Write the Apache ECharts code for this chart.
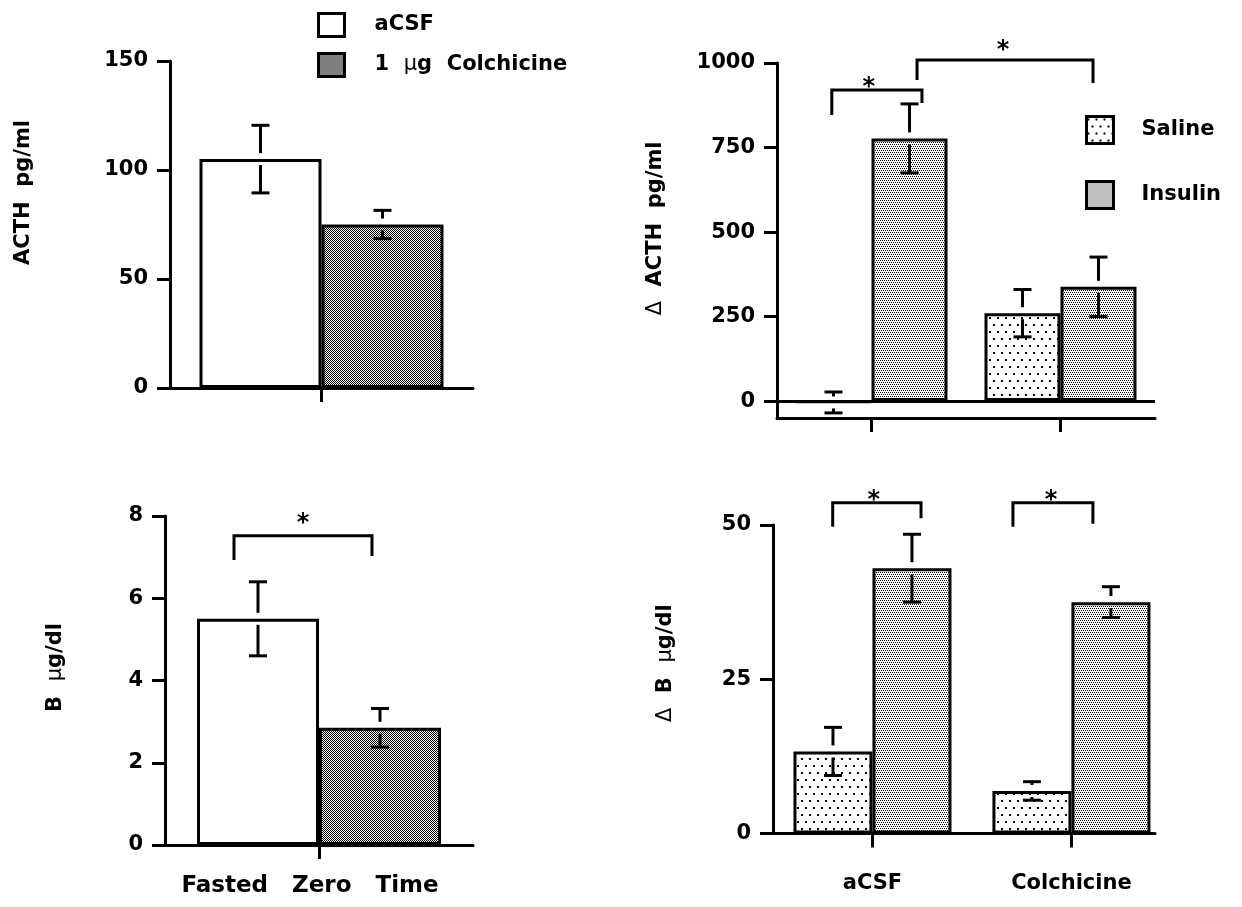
<!DOCTYPE html>
<html>
<head>
<meta charset="utf-8">
<script src="https://cdn.jsdelivr.net/npm/echarts@6/dist/echarts.min.js"></script>
<style>
html, body { margin: 0; padding: 0; background: #fff; }
#chart { width: 1242px; height: 907px; }
</style>
</head>
<body>
<div id="chart"></div>
<script>
// ---------- data ----------
// Left column: fasted, zero-time values after aCSF or colchicine pretreatment
const pretreatGroups = ['aCSF', '1  µg  Colchicine'];
const acthMean = [105, 75];
const acthSem = [15.5, 6.5];
const corticoMean = [5.5, 2.85];
const corticoSem = [0.9, 0.47];

// Right column: increments after saline or insulin
const treatCategories = ['aCSF', 'Colchicine'];
const challengeGroups = ['Saline', 'Insulin'];
const dActhSaline = [-4, 260];
const dActhSalineSem = [31, 70];
const dActhInsulin = [777, 338];
const dActhInsulinSem = [102, 88];
const dBSaline = [13.3, 6.9];
const dBSalineSem = [3.9, 1.5];
const dBInsulin = [43, 37.5];
const dBInsulinSem = [5.5, 2.5];

// tick values of the value axes
const acthTicks = [0, 50, 100, 150];
const corticoTicks = [0, 2, 4, 6, 8];
const dActhTicks = [0, 250, 500, 750, 1000];
const dBTicks = [0, 25, 50];

// significance brackets: [xLeft, xRight, yBar, yLeftEnd, yRightEnd, starX, starY]
const corticoBrackets = [[0.724, 1.172, 7.52, 6.93, 7.03, 0.948, 7.93]];
const dActhBrackets = [
  [0.79, 1.267, 920, 846, 882, 0.986, 941],
  [1.241, 2.172, 1009, 950, 941, 1.696, 1050]
];
const dBBrackets = [
  [0.80, 1.244, 53.6, 49.7, 51.1, 1.007, 54.7],
  [1.706, 2.108, 53.6, 49.7, 50.2, 1.897, 54.7]
];

// ---------- styling helpers ----------
const FONT = '"DejaVu Sans", "Liberation Sans", sans-serif';
const BLACK = '#000';
const lineStyle = { color: BLACK, width: 3 };

function tile(w, h, dots, size) {
  const c = document.createElement('canvas');
  c.width = w; c.height = h;
  const ctx = c.getContext('2d');
  ctx.fillStyle = '#fff';
  ctx.fillRect(0, 0, w, h);
  ctx.fillStyle = '#000';
  dots.forEach(([x, y]) => ctx.fillRect(x, y, size, size));
  return { image: c, repeat: 'repeat' };
}
const colchicineFill = tile(2, 2, [[0, 0], [1, 1]], 1);
const insulinFill = tile(4, 4, [[0, 0], [2, 0], [1, 2], [3, 2]], 1);
const salineFill = tile(8, 14, [[1, 2], [5, 9]], 2);

const barBorder = { borderColor: BLACK, borderWidth: 3 };

function muRich(s) { return s.replace('µ', '{u|µ}').replace('Δ', '{d|Δ}'); }
const richThin = {
  u: { fontSize: 21, fontWeight: 'normal', fontFamily: FONT, color: BLACK },
  d: { fontSize: 21, fontWeight: 'normal', fontFamily: FONT, color: BLACK }
};

function yAxisDef(gi, ticks, min, name, gap, shift) {
  return {
    gridIndex: gi, type: 'value', min: min, max: ticks[ticks.length - 1],
    axisLine: { show: true, onZero: false, lineStyle },
    axisTick: { show: true, customValues: ticks, length: 13, lineStyle },
    axisLabel: {
      customValues: ticks, margin: 22, formatter: v => String(v),
      fontSize: 21, fontWeight: 'bold', fontFamily: FONT, color: BLACK
    },
    splitLine: { show: false },
    name: muRich(name), nameLocation: 'middle', nameRotate: 90, nameGap: gap,
    nameTextStyle: { fontSize: 21, fontWeight: 'bold', fontFamily: FONT, color: BLACK, padding: [0, 0, 0, shift], rich: richThin }
  };
}

function xAxisDef(gi, min, max, ticks, extra) {
  return Object.assign({
    gridIndex: gi, type: 'value', min, max,
    axisLine: { show: true, onZero: false, lineStyle },
    axisTick: { show: true, customValues: ticks, length: 14, lineStyle },
    axisLabel: { show: false },
    splitLine: { show: false }
  }, extra || {});
}

function barSeries(name, gi, xs, values, width, fill, extra) {
  return Object.assign({
    type: 'bar', name, xAxisIndex: gi, yAxisIndex: gi,
    data: xs.map((x, i) => [x, values[i]]),
    barWidth: width, barGap: '0%',
    itemStyle: Object.assign({ color: fill }, barBorder),
    silent: true
  }, extra || {});
}

function errorSeries(gi, xs, means, sems, offset) {
  return {
    type: 'custom', xAxisIndex: gi, yAxisIndex: gi, clip: false, silent: true, z: 4,
    data: xs.map((x, i) => [x, means[i], sems[i]]),
    encode: { x: 0, y: 1 },
    renderItem(params, api) {
      const x = api.value(0), m = api.value(1), e = api.value(2);
      const c = api.coord([x, m]);
      const cx = c[0] + offset;
      const top = api.coord([x, m + e])[1];
      const bot = api.coord([x, m - e])[1];
      const gap = 6, cap = 9;
      const seg = (x1, y1, x2, y2) => ({ type: 'line', shape: { x1, y1, x2, y2 }, style: { stroke: BLACK, lineWidth: 3 } });
      const parts = [seg(cx - cap, top, cx + cap, top), seg(cx - cap, bot, cx + cap, bot)];
      if (top < c[1] - gap) parts.push(seg(cx, top, cx, c[1] - gap));
      if (bot > c[1] + gap) parts.push(seg(cx, c[1] + gap, cx, bot));
      return { type: 'group', children: parts };
    }
  };
}

function bracketSeries(gi, brackets) {
  return {
    type: 'custom', xAxisIndex: gi, yAxisIndex: gi, clip: false, silent: true, z: 5,
    data: brackets,
    encode: { x: [0, 1, 5], y: [2, 3, 4, 6] },
    renderItem(params, api) {
      const l = api.coord([api.value(0), api.value(3)]);
      const lt = api.coord([api.value(0), api.value(2)]);
      const rt = api.coord([api.value(1), api.value(2)]);
      const r = api.coord([api.value(1), api.value(4)]);
      const s = api.coord([api.value(5), api.value(6)]);
      return {
        type: 'group', children: [
          { type: 'polyline', shape: { points: [l, lt, rt, r] }, style: { stroke: BLACK, lineWidth: 3, fill: 'none' } },
          { type: 'text', x: s[0], y: s[1] + 5, style: { text: '*', fontSize: 24, fontWeight: 'bold', fontFamily: FONT, fill: BLACK, align: 'center', verticalAlign: 'middle' } }
        ]
      };
    }
  };
}

const single = [1];
const pair = [1, 2];

const option = {
  backgroundColor: '#fff',
  animation: false,
  grid: [
    { left: 170, top: 61, width: 303, height: 327 },     // ACTH
    { left: 165, top: 516, width: 308, height: 329 },    // B
    { left: 777, top: 63, width: 378, height: 355 },     // delta ACTH
    { left: 773, top: 525, width: 382, height: 308.5 }   // delta B
  ],
  legend: [
    {
      data: pretreatGroups, orient: 'vertical', left: 317, top: 12, padding: 0,
      itemWidth: 26, itemHeight: 23, itemGap: 14, icon: 'rect', selectedMode: false,
      itemStyle: { borderColor: BLACK, borderWidth: 3 },
      formatter: n => muRich(n),
      textStyle: { fontSize: 21, fontWeight: 'bold', fontFamily: FONT, color: BLACK, padding: [0, 0, 0, 25], rich: richThin }
    },
    {
      data: challengeGroups, orient: 'vertical', left: 1085, top: 115, padding: 0,
      itemWidth: 27, itemHeight: 27, itemGap: 35, icon: 'rect', selectedMode: false,
      itemStyle: { borderColor: BLACK, borderWidth: 3 },
      textStyle: { fontSize: 21, fontWeight: 'bold', fontFamily: FONT, color: BLACK, padding: [0, 0, 0, 23] }
    }
  ],
  xAxis: [
    xAxisDef(0, 0.5, 1.5, single),
    xAxisDef(1, 0.5, 1.5, single, {
      name: 'Fasted   Zero   Time', nameLocation: 'middle', nameGap: 30,
      nameTextStyle: { fontSize: 23, fontWeight: 'bold', fontFamily: FONT, color: BLACK, padding: [0, 18, 0, 0] }
    }),
    xAxisDef(2, 0.5, 2.5, pair),
    xAxisDef(3, 0.5, 2.42, pair, {
      axisLabel: {
        show: true, customValues: pair, margin: 40,
        formatter: v => treatCategories[Math.round(v) - 1],
        fontSize: 21, fontWeight: 'bold', fontFamily: FONT, color: BLACK
      }
    })
  ],
  yAxis: [
    yAxisDef(0, acthTicks, 0, 'ACTH  pg/ml', 136, 64),
    yAxisDef(1, corticoTicks, 0, 'B  µg/dl', 99, 26),
    yAxisDef(2, dActhTicks, -50, 'Δ  ACTH  pg/ml', 111, 24),
    yAxisDef(3, dBTicks, 0, 'Δ  B  µg/dl', 97, 32)
  ],
  series: [
    // ACTH at zero time
    barSeries(pretreatGroups[0], 0, single, acthMean.slice(0, 1), 122, '#fff'),
    barSeries(pretreatGroups[1], 0, single, acthMean.slice(1), 122, colchicineFill),
    errorSeries(0, single, acthMean.slice(0, 1), acthSem.slice(0, 1), -61),
    errorSeries(0, single, acthMean.slice(1), acthSem.slice(1), 61),
    // corticosterone at zero time
    barSeries(pretreatGroups[0], 1, single, corticoMean.slice(0, 1), 122, '#fff'),
    barSeries(pretreatGroups[1], 1, single, corticoMean.slice(1), 122, colchicineFill),
    errorSeries(1, single, corticoMean.slice(0, 1), corticoSem.slice(0, 1), -61),
    errorSeries(1, single, corticoMean.slice(1), corticoSem.slice(1), 61),
    bracketSeries(1, corticoBrackets),
    // delta ACTH
    barSeries(challengeGroups[0], 2, pair, dActhSaline, 76, salineFill, {
      markLine: { silent: true, symbol: 'none', label: { show: false }, lineStyle: { color: BLACK, width: 3, type: 'solid' }, data: [{ yAxis: 0 }] }
    }),
    barSeries(challengeGroups[1], 2, pair, dActhInsulin, 76, insulinFill),
    errorSeries(2, pair, dActhSaline, dActhSalineSem, -38),
    errorSeries(2, pair, dActhInsulin, dActhInsulinSem, 38),
    bracketSeries(2, dActhBrackets),
    // delta B
    barSeries(challengeGroups[0], 3, pair, dBSaline, 79, salineFill),
    barSeries(challengeGroups[1], 3, pair, dBInsulin, 79, insulinFill),
    errorSeries(3, pair, dBSaline, dBSalineSem, -39.5),
    errorSeries(3, pair, dBInsulin, dBInsulinSem, 39.5),
    bracketSeries(3, dBBrackets)
  ]
};

const chart = echarts.init(document.getElementById('chart'), null, { renderer: 'canvas' });
chart.setOption(option);
</script>
</body>
</html>
